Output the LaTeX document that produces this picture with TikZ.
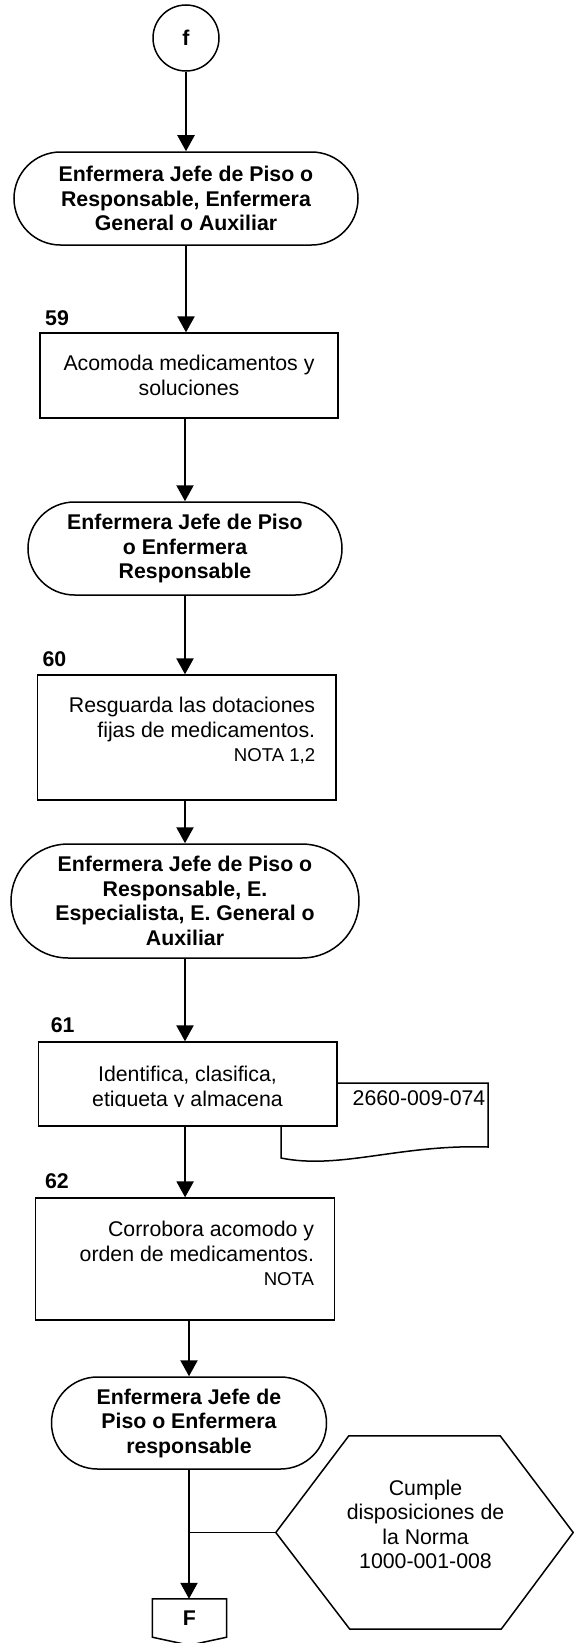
\documentclass[tikz,border=0pt]{standalone}
\usepackage{fontspec}
\setmainfont{Liberation Sans}
\usetikzlibrary{arrows.meta,calc}
\begin{document}
\begin{tikzpicture}[x=1pt,y=-1pt,
  mainf/.style={font=\fontsize{21.3}{24.5}\selectfont},
  boldf/.style={font=\fontsize{21.3}{24.5}\selectfont\bfseries},
  term/.style={draw, line width=1.5pt, align=center, boldf, inner sep=0pt},
  procbox/.style={draw, line width=1.3pt, fill=white, inner sep=0pt, align=center, mainf},
  arr/.style={line width=2.2pt, -{Triangle[length=16pt,width=17pt]}},
  steplabel/.style={boldf, anchor=base west, inner sep=0pt},
  rtext/.style={mainf, anchor=north east, align=right, inner sep=0pt},
  shapeline/.style={line width=1.5pt}
]
\useasboundingbox (0,0) rectangle (574,1643);

% start connector
\node[circle, draw, line width=1.5pt, minimum size=66pt, inner sep=0pt, boldf] (fc) at (186,38) {f};

% terminal 1
\node[term, minimum width=344pt, minimum height=93pt, rounded corners=46.5pt] (t1) at (186,198.5)
  {Enfermera Jefe de Piso o\\Responsable, Enfermera\\General o Auxiliar};

% step 59
\node[procbox, minimum width=298pt, minimum height=85pt] (b59) at (189,375.5)
  {Acomoda medicamentos y\\soluciones};
\node[steplabel] (l59) at (45,325) {59};

% terminal 2
\node[term, minimum width=314pt, minimum height=93pt, rounded corners=46.5pt] (t2) at (185,548.5)
  {Enfermera Jefe de Piso\\o Enfermera\\Responsable};

% step 60
\node[procbox, minimum width=298.5pt, minimum height=125pt] (b60) at (186.75,737.5) {};
\node[steplabel] (l60) at (42.3,666.7) {60};
\node[rtext] (x60) at (315.4,695.35)
  {\strut Resguarda las dotaciones\\fijas de medicamentos.\\{\fontsize{18.6}{21.4}\selectfont NOTA 1,2}};

% terminal 3
\node[term, minimum width=348pt, minimum height=114pt, rounded corners=57pt] (t3) at (185,901)
  {Enfermera Jefe de Piso o\\Responsable, E.\\Especialista, E. General o\\Auxiliar};

% document 2660-009-074 (behind step 61)
\draw[shapeline, fill=white] (281,1083) coordinate (dnw) -- (488,1083) coordinate (dne) -- (488,1147) coordinate (dse)
  .. controls (400,1144) and (340,1170) .. (281,1158) coordinate (dsw) -- cycle;
\node[mainf, anchor=base, inner sep=0pt] (doc) at (419,1105) {2660-009-074};

% step 61
\node[procbox, minimum width=298.4pt, minimum height=84pt] (b61) at (187.8,1084) {};
\node[steplabel] (l61) at (50.7,1032.7) {61};
\coordinate (clipy) at (0,1106);
\begin{scope}
  \clip (b61.north west) rectangle (b61.east |- clipy);
  \node[mainf, anchor=north, align=center, inner sep=0pt] (x61) at (187.5,1064.5)
    {\strut Identifica, clasifica,\\etiqueta y almacena};
\end{scope}

% step 62
\node[procbox, minimum width=298.8pt, minimum height=122pt] (b62) at (185.1,1259) {};
\node[steplabel] (l62) at (44.9,1188.3) {62};
\node[rtext] (x62) at (314.3,1219.5)
  {\strut Corrobora acomodo y\\orden de medicamentos.\\{\fontsize{18.6}{21.4}\selectfont NOTA}};

% terminal 4
\node[term, minimum width=275pt, minimum height=92pt, rounded corners=46pt] (t4) at (189,1423)
  {Enfermera Jefe de\\Piso o Enfermera\\responsable};

% off-page connector F
\node[boldf, minimum width=74pt, minimum height=38pt, inner sep=0pt] (fo) at (189.5,1618) {F};
\draw[shapeline] (fo.north west) -- (fo.north east) -- (fo.south east) -- ($(fo.south)+(0,8)$) -- (fo.south west) -- cycle;

% hexagon
\node[minimum width=297pt, minimum height=193pt, inner sep=0pt] (hx) at (424.5,1532.5) {};
\draw[shapeline] (hx.west) -- ($(hx.north west)+(73,0)$) -- ($(hx.north east)+(-73,0)$) -- (hx.east)
  -- ($(hx.south east)+(-72,0)$) -- ($(hx.south west)+(74,0)$) -- cycle;
\node[mainf, align=center, inner sep=0pt] (hxt) at (425.5,1524.5)
  {Cumple\\disposiciones de\\la Norma\\1000-001-008};

% connectors
\draw[arr] (fc) -- (t1);
\draw[arr] (t1.south) -- (t1.south |- b59.north);
\draw[arr] (t2.north |- b59.south) -- (t2.north);
\draw[arr] (t2.south) -- (t2.south |- b60.north);
\draw[arr] (t3.north |- b60.south) -- (t3.north);
\draw[arr] (t3.south) -- (t3.south |- b61.north);
\draw[arr] (b62.north |- b61.south) -- (b62.north);
\draw[arr] (t4.north |- b62.south) -- (t4.north);
\draw[arr] (t4.south) -- (t4.south |- fo.north);
\draw[line width=1.8pt] (hx.west) -- (hx.west -| t4.south);
\end{tikzpicture}
\end{document}
